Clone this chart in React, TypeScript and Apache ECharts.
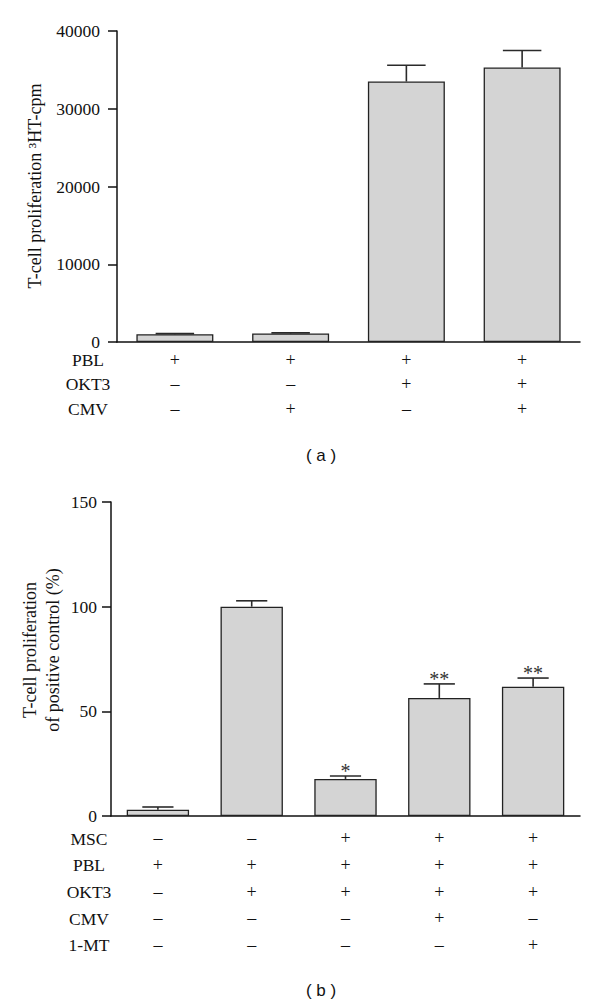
import React, { useEffect, useRef } from 'react';
import * as echarts from 'echarts';

// ---------- Panel (a) ----------
const columnsA = ['c1', 'c2', 'c3', 'c4'];
const rowsA = ['PBL', 'OKT3', 'CMV'];
const signsA = [
  ['+', '+', '+', '+'],
  ['–', '–', '+', '+'],
  ['–', '+', '–', '+'],
];
const valuesA = [1000, 1100, 33500, 35300];
const errorsA = [80, 80, 2100, 2200];
const yMaxA = 40000;
const yStepA = 10000;
const titleA = 'T-cell proliferation ³HT-cpm';
const panelA = '( a )';

// ---------- Panel (b) ----------
const columnsB = ['c1', 'c2', 'c3', 'c4', 'c5'];
const rowsB = ['MSC', 'PBL', 'OKT3', 'CMV', '1-MT'];
const signsB = [
  ['–', '–', '+', '+', '+'],
  ['+', '+', '+', '+', '+'],
  ['–', '+', '+', '+', '+'],
  ['–', '–', '–', '+', '–'],
  ['–', '–', '–', '–', '+'],
];
const valuesB = [3, 100, 17.7, 56.4, 61.8];
const errorsB = [1.3, 2.8, 1.4, 6.7, 4.1];
const starsB = ['', '', '*', '**', '**'];
const yMaxB = 150;
const yStepB = 50;
const titleB = ['T-cell proliferation', 'of positive control (%)'];
const panelB = '( b )';

const SERIF = '"Liberation Serif", "Times New Roman", serif';
const SANS = '"Liberation Sans", Arial, sans-serif';
const INK = '#111111';

function errorRenderer(stars: string[] | null) {
  return (params: any, api: any) => {
    const i = api.value(0);
    const v = api.value(1);
    const e = api.value(2);
    const base = api.coord([i, v]);
    const top = api.coord([i, v + e]);
    const band = api.size([1, 0])[0];
    const half = band * 0.665 * 0.25;
    const children: any[] = [
      {
        type: 'line',
        shape: { x1: base[0], y1: base[1], x2: top[0], y2: top[1] },
        style: { stroke: '#2a2a2a', lineWidth: 1.6 },
      },
      {
        type: 'line',
        shape: { x1: top[0] - half, y1: top[1], x2: top[0] + half, y2: top[1] },
        style: { stroke: '#2a2a2a', lineWidth: 1.6 },
      },
    ];
    const s = stars ? stars[params.dataIndex] : '';
    if (s) {
      children.push({
        type: 'text',
        x: top[0],
        y: top[1] + 5,
        style: {
          text: s,
          align: 'center',
          verticalAlign: 'bottom',
          font: '20px ' + SERIF,
          fill: '#333',
        },
      });
    }
    return { type: 'group', children };
  };
}

export default function App() {
  const ref = useRef<HTMLDivElement>(null);

  useEffect(() => {
    if (!ref.current) return;
    const chart = echarts.init(ref.current, null, { renderer: 'svg' });

    const axisLine = { show: true, lineStyle: { color: INK, width: 1.5 } };
    const tick = { show: true, length: 9, lineStyle: { color: INK, width: 1.5 } };

    const rowTextsA = rowsA.map((r, k) => ({
      type: 'text',
      x: 88,
      y: 360 + k * 24.3,
      style: { text: r, align: 'center', verticalAlign: 'middle', font: '17.5px ' + SERIF, fill: INK },
    }));
    const rowTextsB = rowsB.map((r, k) => ({
      type: 'text',
      x: 89,
      y: 838.5 + k * 26.7,
      style: { text: r, align: 'center', verticalAlign: 'middle', font: '17.5px ' + SERIF, fill: INK },
    }));

    const option: any = {
      animation: false,
      backgroundColor: '#ffffff',
      grid: [
        { left: 117, top: 31, width: 463, height: 311 },
        { left: 111, top: 502, width: 469, height: 314 },
      ],
      xAxis: [
        {
          type: 'category',
          gridIndex: 0,
          data: columnsA,
          axisLine,
          axisTick: { show: false },
          axisLabel: {
            interval: 0,
            margin: 6,
            lineHeight: 24.3,
            color: INK,
            fontFamily: SERIF,
            fontSize: 18,
            formatter: (_v: string, idx: number) => signsA.map((row) => row[idx]).join('\n'),
          },
        },
        {
          type: 'category',
          gridIndex: 1,
          data: columnsB,
          axisLine,
          axisTick: { show: false },
          axisLabel: {
            interval: 0,
            margin: 9,
            lineHeight: 26.7,
            color: INK,
            fontFamily: SERIF,
            fontSize: 18,
            formatter: (_v: string, idx: number) => signsB.map((row) => row[idx]).join('\n'),
          },
        },
      ],
      yAxis: [
        {
          type: 'value',
          gridIndex: 0,
          min: 0,
          max: yMaxA,
          interval: yStepA,
          axisLine,
          axisTick: tick,
          axisLabel: {
            color: INK,
            fontFamily: SERIF,
            fontSize: 17.5,
            margin: 17,
            formatter: (v: number) => String(v),
          },
          splitLine: { show: false },
        },
        {
          type: 'value',
          gridIndex: 1,
          min: 0,
          max: yMaxB,
          interval: yStepB,
          axisLine,
          axisTick: tick,
          axisLabel: {
            color: INK,
            fontFamily: SERIF,
            fontSize: 17.5,
            margin: 14,
            formatter: (v: number) => String(v),
          },
          splitLine: { show: false },
        },
      ],
      series: [
        {
          type: 'bar',
          xAxisIndex: 0,
          yAxisIndex: 0,
          data: valuesA,
          barWidth: '66.5%',
          itemStyle: { color: '#d4d4d4', borderColor: '#222', borderWidth: 1.3 },
          z: 2,
        },
        {
          type: 'custom',
          xAxisIndex: 0,
          yAxisIndex: 0,
          data: valuesA.map((v, i) => [i, v, errorsA[i]]),
          renderItem: errorRenderer(null),
          z: 3,
        },
        {
          type: 'bar',
          xAxisIndex: 1,
          yAxisIndex: 1,
          data: valuesB,
          barWidth: '66.5%',
          itemStyle: { color: '#d4d4d4', borderColor: '#222', borderWidth: 1.3 },
          z: 2,
        },
        {
          type: 'custom',
          xAxisIndex: 1,
          yAxisIndex: 1,
          data: valuesB.map((v, i) => [i, v, errorsB[i]]),
          renderItem: errorRenderer(starsB),
          z: 3,
        },
      ],
      graphic: [
        ...rowTextsA,
        ...rowTextsB,
        {
          type: 'text',
          x: 35,
          y: 186,
          rotation: Math.PI / 2,
          style: { text: titleA, align: 'center', verticalAlign: 'middle', font: '18px ' + SERIF, fill: INK },
        },
        {
          type: 'text',
          x: 41.5,
          y: 650,
          rotation: Math.PI / 2,
          style: {
            text: titleB.join('\n'),
            align: 'center',
            verticalAlign: 'middle',
            lineHeight: 23,
            font: '18px ' + SERIF,
            fill: INK,
          },
        },
        {
          type: 'text',
          x: 321,
          y: 455,
          style: { text: panelA, align: 'center', verticalAlign: 'middle', font: '17px ' + SANS, fill: INK },
        },
        {
          type: 'text',
          x: 321,
          y: 990,
          style: { text: panelB, align: 'center', verticalAlign: 'middle', font: '17px ' + SANS, fill: INK },
        },
      ],
    };

    chart.setOption(option);
    return () => chart.dispose();
  }, []);

  return (
    <div
      ref={ref}
      style={{ position: 'absolute', left: 0, top: 0, width: 600, height: 1007, background: '#fff' }}
    />
  );
}
